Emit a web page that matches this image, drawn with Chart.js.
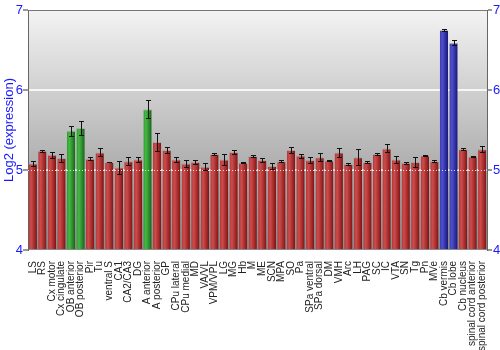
<!DOCTYPE html>
<html>
<head>
<meta charset="utf-8">
<script src="https://cdn.jsdelivr.net/npm/chart.js@4.4.0/dist/chart.umd.min.js"></script>
<style>
  html, body { margin: 0; padding: 0; background: #fff; }
  #wrap { width: 500px; height: 350px; }
</style>
</head>
<body>
<div id="wrap"><canvas id="chart" width="500" height="350"></canvas></div>
<script>
// regiones (eje x)
const regiones = [
  'LS', 'RS', 'Cx motor', 'Cx cingulate', 'OB anterior', 'OB posterior', 'Pir', 'Tu',
  'ventral S', 'CA1', 'CA2/CA3', 'DG', 'A anterior', 'A posterior', 'GP', 'CPu lateral',
  'CPu medial', 'MD', 'VA/VL', 'VPM/VPL', 'LG', 'MG', 'Hb', 'M', 'ME', 'SCN', 'MPA', 'SO',
  'Pa', 'SPa ventral', 'SPa dorsal', 'DM', 'VMH', 'Arc', 'LH', 'PAG', 'SC', 'IC', 'VTA',
  'SN', 'Tg', 'Pn', 'MVe', 'Cb vermis', 'Cb lobe', 'Cb nucleus', 'spinal cord anterior',
  'spinal cord posterior'
];

// log2 expresion
const expresion = [
  5.08, 5.24, 5.19, 5.15, 5.49, 5.525, 5.14, 5.22,
  5.10, 5.03, 5.11, 5.13, 5.76, 5.35, 5.25, 5.13,
  5.08, 5.10, 5.04, 5.20, 5.13, 5.225, 5.09, 5.175, 5.125, 5.05, 5.11, 5.25,
  5.18, 5.125, 5.16, 5.12, 5.22, 5.075, 5.16, 5.10, 5.20, 5.27, 5.13,
  5.09, 5.10, 5.18, 5.11, 6.75, 6.59, 5.26, 5.17,
  5.26
];

// error (+/-)
const errores = [
  0.03, 0.015, 0.04, 0.05, 0.06, 0.09, 0.02, 0.05,
  0.005, 0.08, 0.05, 0.03, 0.11, 0.11, 0.04, 0.03,
  0.045, 0.03, 0.045, 0.015, 0.065, 0.03, 0.005, 0.01, 0.02, 0.04, 0.01, 0.035,
  0.025, 0.04, 0.05, 0.01, 0.06, 0.01, 0.10, 0.01, 0.01, 0.05, 0.045,
  0.015, 0.06, 0.01, 0.01, 0.01, 0.03, 0.01, 0.01,
  0.035
];

// grupo de color por barra: r = rojo, g = verde, b = azul
const grupos = regiones.map(r => {
  if (r === 'OB anterior' || r === 'OB posterior' || r === 'A anterior') return 'g';
  if (r === 'Cb vermis' || r === 'Cb lobe') return 'b';
  return 'r';
});

const yTicks = [4, 5, 6, 7];

const PALETA = {
  r: ['#b43838', '#cc4c4c', '#a52a2a', '#7a1414'],
  g: ['#2f9a2f', '#45b845', '#2a8a2a', '#176117'],
  b: ['#3a3ab0', '#4f4fcc', '#2e2ea0', '#16166e']
};

const BAR_PCT = 0.87;

function barFill(ctx) {
  const chart = ctx.chart;
  const xs = chart.scales.x;
  const pal = PALETA[grupos[ctx.dataIndex]] || PALETA.r;
  if (!xs || ctx.type !== 'data' || !xs.width) return pal[1];
  const cx = xs.getPixelForValue(ctx.dataIndex);
  const w = (xs.width / regiones.length) * BAR_PCT;
  const g = chart.ctx.createLinearGradient(cx - w / 2, 0, cx + w / 2, 0);
  g.addColorStop(0, pal[0]);
  g.addColorStop(0.3, pal[1]);
  g.addColorStop(0.7, pal[2]);
  g.addColorStop(1, pal[3]);
  return g;
}

// fondo degradado del area
const fondoPlugin = {
  id: 'fondo',
  beforeDraw(chart) {
    const { ctx, chartArea: a } = chart;
    const g = ctx.createLinearGradient(0, a.top, 0, a.bottom);
    g.addColorStop(0, '#f3f3f3');
    g.addColorStop(1, '#8a8a8a');
    ctx.save();
    ctx.fillStyle = g;
    ctx.fillRect(a.left, a.top, a.right - a.left, a.bottom - a.top);
    ctx.restore();
  },
  afterDraw(chart) {
    const { ctx, chartArea: a } = chart;
    ctx.save();
    ctx.strokeStyle = '#777';
    ctx.lineWidth = 1;
    ctx.beginPath();
    ctx.moveTo(a.left, a.top + 0.5);
    ctx.lineTo(a.right, a.top + 0.5);
    ctx.stroke();
    ctx.restore();
  }
};

// barras de error + linea punteada en 5
const erroresPlugin = {
  id: 'errores',
  afterDatasetsDraw(chart) {
    const { ctx, chartArea: a } = chart;
    const xs = chart.scales.x;
    const ys = chart.scales.y;
    ctx.save();

    const y5 = Math.round(ys.getPixelForValue(5)) + 0.5;
    ctx.strokeStyle = 'rgba(255,255,255,0.8)';
    ctx.setLineDash([1, 2]);
    ctx.beginPath();
    ctx.moveTo(a.left, y5);
    ctx.lineTo(a.right, y5);
    ctx.stroke();
    ctx.setLineDash([]);

    ctx.strokeStyle = '#111';
    ctx.lineWidth = 1;
    expresion.forEach((v, i) => {
      const e = errores[i];
      const x = Math.round(xs.getPixelForValue(i)) + 0.5;
      const yt = Math.round(ys.getPixelForValue(v + e)) + 0.5;
      const yb = Math.round(ys.getPixelForValue(v - e)) + 0.5;
      ctx.beginPath();
      ctx.moveTo(x, yt); ctx.lineTo(x, yb);
      ctx.moveTo(x - 2.5, yt); ctx.lineTo(x + 2.5, yt);
      ctx.moveTo(x - 2.5, yb); ctx.lineTo(x + 2.5, yb);
      ctx.stroke();
    });
    ctx.restore();
  }
};

const ejeY = (pos) => ({
  type: 'linear',
  position: pos,
  min: yTicks[0],
  max: yTicks[yTicks.length - 1],
  afterBuildTicks: (s) => { s.ticks = yTicks.map(v => ({ value: v })); },
  afterFit: (s) => { s.width = pos === 'left' ? 28 : 13; },
  border: { display: true, color: '#666', width: 1 },
  grid: {
    drawOnChartArea: pos === 'left',
    color: (c) => (c.tick && (c.tick.value === 5 || c.tick.value === 6)) ? 'rgba(255,255,255,0.8)' : 'rgba(0,0,0,0)',
    lineWidth: 2,
    tickColor: '#333',
    tickLength: 5,
    tickWidth: 1
  },
  ticks: {
    color: '#1a1aff',
    font: { family: 'Liberation Sans, Arial, sans-serif', size: 13 },
    padding: pos === 'left' ? 0 : 1
  },
  title: pos === 'left' ? {
    display: true,
    text: 'Log2 (expression)',
    color: '#1a1aff',
    font: { family: 'Liberation Sans, Arial, sans-serif', size: 13 },
    padding: { top: 2, bottom: 0 }
  } : { display: false }
});

new Chart(document.getElementById('chart'), {
  type: 'bar',
  data: {
    labels: regiones,
    datasets: [{
      data: expresion,
      base: 4,
      backgroundColor: barFill,
      borderColor: 'rgba(150,150,150,0.55)',
      borderWidth: { top: 1, left: 0, right: 0, bottom: 0 },
      borderSkipped: 'bottom',
      barPercentage: BAR_PCT,
      categoryPercentage: 1,
      yAxisID: 'y'
    }]
  },
  options: {
    responsive: false,
    animation: false,
    layout: { padding: { top: 10, left: 0, right: 0, bottom: 0 } },
    plugins: {
      legend: { display: false },
      tooltip: { enabled: false }
    },
    scales: {
      x: {
        afterFit: (s) => { s.height = 100; },
        grid: { display: false },
        border: { display: false },
        ticks: {
          autoSkip: false,
          minRotation: 90,
          maxRotation: 90,
          padding: 3,
          color: '#222',
          font: { family: 'Liberation Sans, Arial, sans-serif', size: 10 }
        }
      },
      y: ejeY('left'),
      y2: ejeY('right')
    }
  },
  plugins: [fondoPlugin, erroresPlugin]
});
</script>
</body>
</html>
